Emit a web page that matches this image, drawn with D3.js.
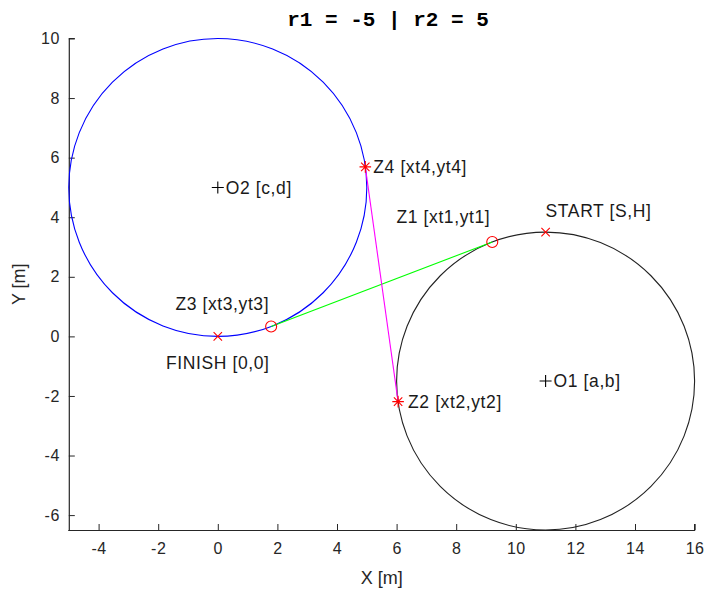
<!DOCTYPE html>
<html>
<head>
<meta charset="utf-8">
<script src="https://cdn.jsdelivr.net/npm/d3@7"></script>
<style>
  html, body { margin: 0; padding: 0; background: #fff; }
  svg { display: block; }
</style>
</head>
<body>
<svg id="chart" width="709" height="592"></svg>
<script>
// Axis limits and tick values
const xDomain = [-5, 16];
const yDomain = [-6.5, 10];
const xTicks = [-4, -2, 0, 2, 4, 6, 8, 10, 12, 14, 16];
const yTicks = [-6, -4, -2, 0, 2, 4, 6, 8, 10];

// Turning circles: centre and radius
const circleNames = ["O1", "O2"];
const circleCx = [11, 0];
const circleCy = [-1.5, 5];
const circleR = [5, 5];
const circleLabels = ["O1 [a,b]", "O2 [c,d]"];

// Named points along the route
const pointNames = ["START", "Z1", "Z2", "Z3", "Z4", "FINISH"];
const pointX = [11, 9.21, 6.05, 1.79, 4.95, 0];
const pointY = [3.5, 3.17, -2.19, 0.33, 5.69, 0];
const pointLabels = ["START [S,H]", "Z1 [xt1,yt1]", "Z2 [xt2,yt2]", "Z3 [xt3,yt3]", "Z4 [xt4,yt4]", "FINISH [0,0]"];
const pointMarkers = ["x", "o", "*", "o", "*", "x"];

// Tangent segments between the circles
const segFrom = ["Z1", "Z2"];
const segTo = ["Z3", "Z4"];

const title = "r1 = -5 | r2 = 5";
const xLabel = "X [m]";
const yLabel = "Y [m]";

// ---- styles ----
const axisColor = "#262626";
const circleColor = { O1: "#222222", O2: "#0000ff" };
const segColor = { Z1: "#00ff00", Z2: "#ff00ff" };
const markColor = "#ff0000";
// label placement relative to the marker: [dx, dy, anchor]
const labelPlace = {
  START: [0, -21, "start"],
  Z1: [-2, -25, "end"],
  Z2: [10, 0, "start"],
  Z3: [-2, -23, "end"],
  Z4: [8, 0, "start"],
  FINISH: [0, 26, "middle"],
  O1: [8, 0, "start"],
  O2: [8, 0, "start"]
};

const svg = d3.select("#chart");
const plotLeft = 68.8, plotRight = 694.6, plotTop = 38.5, plotBottom = 530;

const x = d3.scaleLinear().domain(xDomain).range([plotLeft, plotRight]);
const y = d3.scaleLinear().domain(yDomain).range([plotBottom, plotTop]);

const font = "'Liberation Sans', Arial, Helvetica, sans-serif";
const plainNum = d => String(d);

// X axis (ticks pointing inward)
const xAxis = svg.append("g")
  .attr("transform", `translate(0,${plotBottom})`)
  .call(d3.axisBottom(x).tickValues(xTicks).tickSizeInner(-6).tickSizeOuter(0).tickPadding(13).tickFormat(plainNum));
// Y axis
const yAxis = svg.append("g")
  .attr("transform", `translate(${plotLeft},0)`)
  .call(d3.axisLeft(y).tickValues(yTicks).tickSizeInner(-6).tickSizeOuter(0).tickPadding(9).tickFormat(plainNum));

[xAxis, yAxis].forEach(g => {
  g.select(".domain").attr("stroke", axisColor).attr("stroke-width", 1.2);
  g.selectAll(".tick line").attr("stroke", axisColor).attr("stroke-width", 1);
  g.selectAll(".tick text")
    .attr("fill", axisColor)
    .style("font-family", font)
    .style("font-size", "16px")
    .style("letter-spacing", "0.5px");
});
// axis lines span the full limits
xAxis.select(".domain").attr("d", `M${plotLeft - 0.6},0.5H${plotRight}V-6`);
yAxis.select(".domain").attr("d", `M0.5,${plotBottom}V${plotTop}H6`);

// Axis labels and title
svg.append("text")
  .attr("x", (plotLeft + plotRight) / 2).attr("y", 584)
  .attr("text-anchor", "middle")
  .attr("fill", axisColor)
  .style("font-family", font).style("font-size", "18px")
  .text(xLabel);
svg.append("text")
  .attr("transform", `translate(25,${(plotTop + plotBottom) / 2}) rotate(-90)`)
  .attr("text-anchor", "middle")
  .attr("fill", axisColor)
  .style("font-family", font).style("font-size", "18px")
  .text(yLabel);
svg.append("text")
  .attr("x", 388).attr("y", 26)
  .attr("text-anchor", "middle")
  .attr("fill", "#000")
  .style("font-family", "'Liberation Mono', 'Courier New', monospace")
  .style("font-weight", "bold")
  .style("font-size", "21px")
  .style("white-space", "pre")
  .text(title);

// Circles
const circles = circleNames.map((n, i) => ({ name: n, cx: circleCx[i], cy: circleCy[i], r: circleR[i], label: circleLabels[i] }));
svg.append("g").selectAll("ellipse").data(circles).join("ellipse")
  .attr("cx", d => x(d.cx))
  .attr("cy", d => y(d.cy))
  .attr("rx", d => x(d.cx + d.r) - x(d.cx))
  .attr("ry", d => y(d.cy) - y(d.cy + d.r))
  .attr("fill", "none")
  .attr("stroke", d => circleColor[d.name])
  .attr("stroke-width", 1.1);

// Tangent segments
const pts = {};
pointNames.forEach((n, i) => { pts[n] = { name: n, x: pointX[i], y: pointY[i], label: pointLabels[i], marker: pointMarkers[i] }; });
const segs = segFrom.map((f, i) => ({ a: pts[f], b: pts[segTo[i]], name: f }));
svg.append("g").selectAll("line").data(segs).join("line")
  .attr("x1", d => x(d.a.x)).attr("y1", d => y(d.a.y))
  .attr("x2", d => x(d.b.x)).attr("y2", d => y(d.b.y))
  .attr("stroke", d => segColor[d.name])
  .attr("stroke-width", 1.1);

// Marker drawing
function drawMarker(g, type, color) {
  const s = 4.2;
  if (type === "o") {
    g.append("circle").attr("r", 5.5).attr("fill", "none").attr("stroke", color).attr("stroke-width", 1.1);
    return;
  }
  let d = "";
  if (type === "x" || type === "*") d += `M${-s},${-s}L${s},${s}M${-s},${s}L${s},${-s}`;
  if (type === "+" || type === "*") {
    const p = type === "+" ? 6 : 5.8;
    d += `M${-p},0L${p},0M0,${-p}L0,${p}`;
  }
  g.append("path").attr("d", d).attr("fill", "none").attr("stroke", color).attr("stroke-width", 1.1);
}

// Centre markers and labels
circles.forEach(c => {
  const g = svg.append("g").attr("transform", `translate(${x(c.cx)},${y(c.cy)})`);
  drawMarker(g, "+", "#000");
  const [dx, dy, anchor] = labelPlace[c.name];
  svg.append("text")
    .attr("x", x(c.cx) + dx).attr("y", y(c.cy) + dy)
    .attr("dy", "0.35em")
    .attr("text-anchor", anchor)
    .attr("fill", "#1a1a1a")
    .style("font-family", font).style("font-size", "17.5px").style("letter-spacing", "0.6px")
    .text(c.label);
});

// Route point markers and labels
pointNames.forEach(n => {
  const p = pts[n];
  const g = svg.append("g").attr("transform", `translate(${x(p.x)},${y(p.y)})`);
  drawMarker(g, p.marker, markColor);
  const [dx, dy, anchor] = labelPlace[n];
  svg.append("text")
    .attr("x", x(p.x) + dx).attr("y", y(p.y) + dy)
    .attr("dy", "0.35em")
    .attr("text-anchor", anchor)
    .attr("fill", "#1a1a1a")
    .style("font-family", font).style("font-size", "17.5px").style("letter-spacing", "0.6px")
    .text(p.label);
});
</script>
</body>
</html>
